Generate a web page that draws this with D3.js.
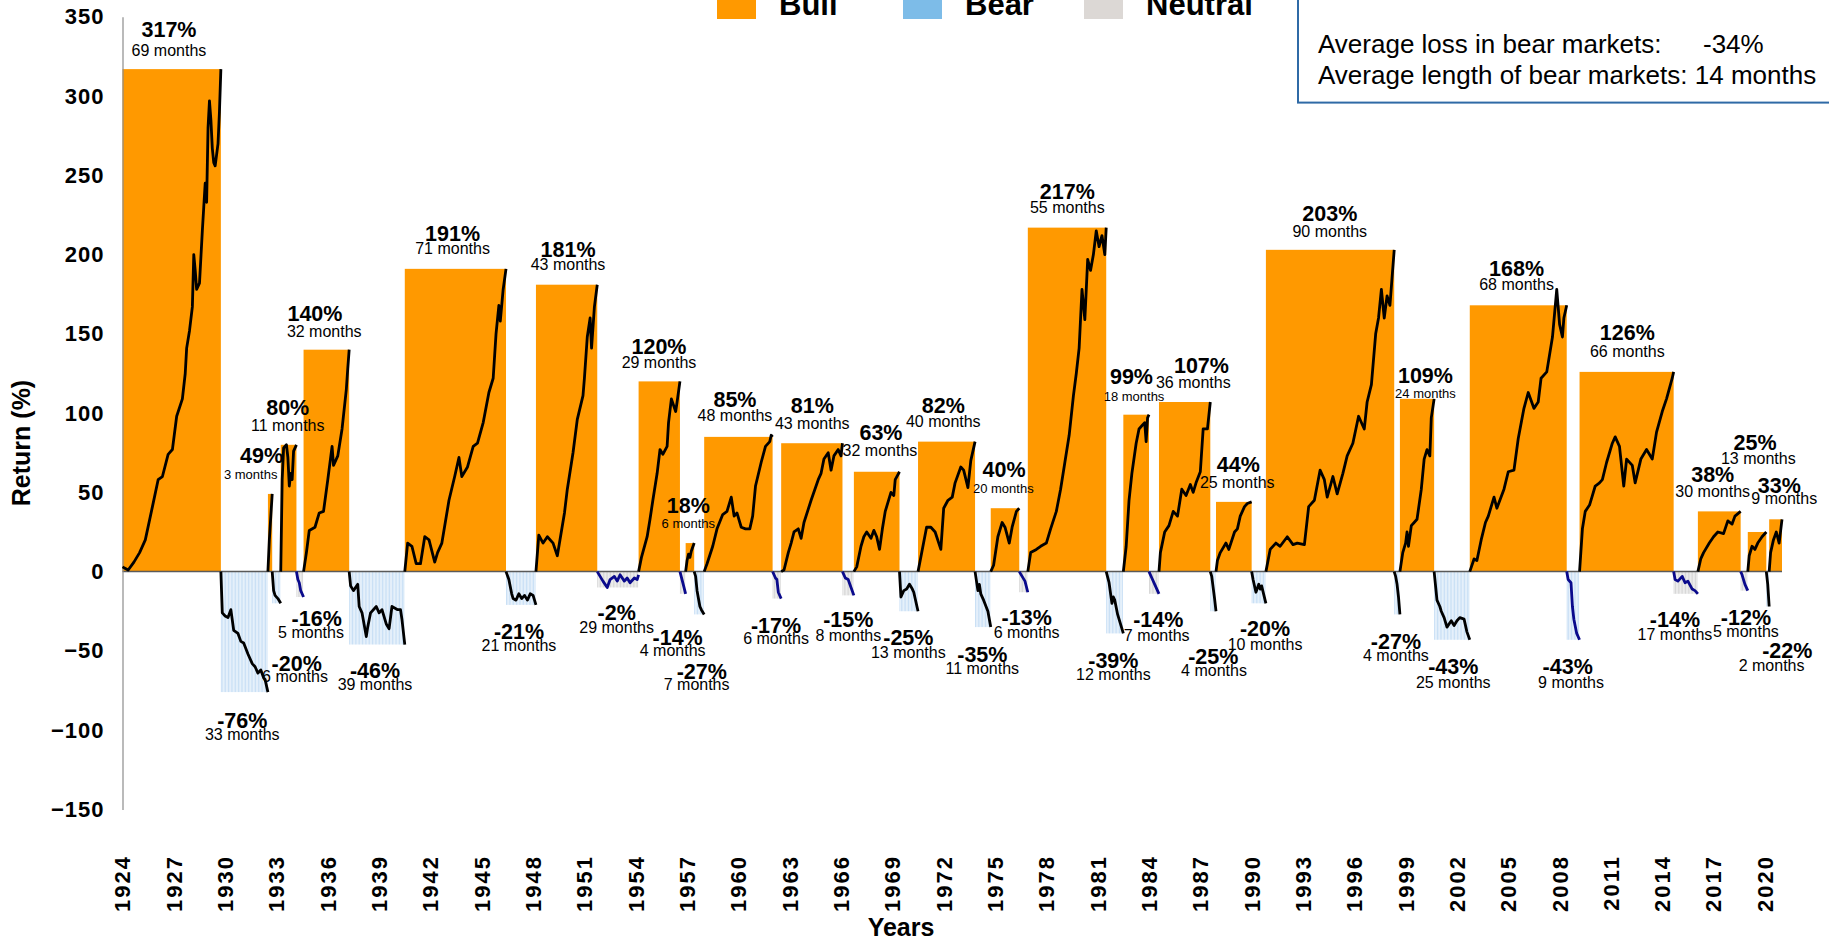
<!DOCTYPE html>
<html>
<head>
<meta charset="utf-8">
<script src="https://cdn.jsdelivr.net/npm/d3@7"></script>
<style>
  body { margin: 0; background: #fff; }
  text { font-family: "Liberation Sans", Arial, sans-serif; }
</style>
</head>
<body>
<svg id="chart" width="1829" height="940"></svg>
<script>
// market periods, left to right from Jan 1924
var periodType = ["bull","bear","bull","bear","bull","neutral","bull","bear","bull","bear",
  "bull","neutral","bull","neutral","bull","bear","bull","neutral","bull","neutral",
  "bull","bear","bull","bear","bull","neutral","bull","bear","bull","neutral",
  "bull","bear","bull","bear","bull","bear","bull","bear","bull","bear",
  "bull","neutral","bull","neutral","bull","bear","bull"];

var periodMonths = [69,33,3,6,11,5,32,39,71,21,43,29,29,4,6,7,48,6,43,8,
  32,13,40,11,20,6,55,12,18,7,36,4,25,10,90,4,24,25,68,9,66,17,30,5,13,2,9];

var periodReturn = [317,-76,49,-20,80,-16,140,-46,191,-21,181,-2,120,-14,18,-27,85,-17,81,-15,
  63,-25,82,-35,40,-13,217,-39,99,-14,107,-25,44,-20,203,-27,109,-43,168,-43,126,-14,38,-12,25,-22,33];

// cumulative return inside each period: [month into period, %]
var periodPath = [
  [[0,3],[2,2],[4,1],[8,6],[12,12],[16,20],[21,41],[25,58],[28,60],[32,74],[35,77],[38,98],[42,109],[44,125],[45,141],[47,152],[49,167],[50,200],[51,190],[52,178],[54,182],[56,215],[57,230],[58,245],[59,233],[60,280],[61,297],[62,285],[63,267],[64,258],[65,256],[67,270],[68,290],[69,317]],
  [[0,0],[1,-26],[3,-28],[5,-29],[7,-24],[9,-37],[12,-39],[14,-44],[16,-45],[19,-52],[22,-58],[24,-60],[26,-64],[28,-62],[30,-67],[31,-68],[33,-76]],
  [[0,0],[1,20],[3,49]],
  [[0,0],[1,-12],[2,-15],[4,-17],[6,-20]],
  [[0,0],[1,58],[2,78],[4,80],[5,72],[6,54],[7,62],[8,58],[9,76],[11,80]],
  [[0,0],[1,-5],[2,-7],[3,-12],[5,-16]],
  [[0,0],[2,12],[4,26],[8,28],[11,37],[14,38],[17,58],[20,79],[21,67],[24,73],[27,90],[30,115],[31,128],[32,140]],
  [[0,0],[1,-9],[3,-12],[6,-8],[7,-22],[9,-26],[12,-41],[13,-35],[15,-26],[19,-22],[21,-26],[23,-24],[26,-33],[28,-36],[30,-22],[34,-24],[36,-24],[37,-30],[39,-46]],
  [[0,0],[2,18],[5,16],[8,5],[11,5],[14,22],[17,20],[21,6],[23,12],[26,18],[31,45],[35,60],[38,72],[40,60],[44,66],[48,79],[51,81],[55,94],[59,113],[62,122],[64,150],[66,168],[67,158],[69,178],[71,191]],
  [[0,0],[2,-5],[4,-14],[5,-17],[7,-18],[9,-14],[11,-17],[13,-15],[15,-18],[17,-14],[19,-15],[21,-21]],
  [[0,0],[2,23],[5,18],[8,22],[12,18],[15,10],[20,37],[22,52],[26,75],[29,96],[33,111],[34,122],[36,148],[38,160],[39,141],[41,167],[43,181]],
  [[0,0],[2,-3],[4,-6],[7,-10],[9,-5],[12,-3],[14,-6],[16,-2],[19,-6],[21,-4],[23,-7],[26,-4],[28,-5],[29,-2]],
  [[0,0],[2,9],[6,22],[8,33],[10,45],[13,62],[15,77],[17,74],[20,79],[21,94],[23,109],[26,101],[27,107],[29,120]],
  [[0,0],[2,-7],[4,-14]],
  [[0,0],[1,7],[2,11],[3,9],[4,13],[6,18]],
  [[0,0],[1,-3],[2,-12],[4,-22],[5,-24],[7,-27]],
  [[0,0],[2,5],[6,16],[9,27],[13,36],[16,38],[19,47],[21,35],[23,37],[26,28],[29,27],[32,27],[34,35],[36,54],[40,69],[43,79],[46,82],[47,86],[48,85]],
  [[0,0],[1,-2],[2,-4],[3,-5],[4,-13],[6,-17]],
  [[0,0],[2,1],[5,12],[7,18],[9,25],[12,27],[14,21],[16,31],[21,45],[26,58],[28,62],[30,71],[33,75],[35,64],[37,73],[40,77],[42,73],[43,81]],
  [[0,0],[2,-4],[4,-5],[6,-10],[8,-15]],
  [[0,0],[2,3],[5,16],[7,22],[9,25],[12,21],[14,26],[16,22],[18,14],[20,27],[22,38],[26,50],[28,48],[29,58],[32,63]],
  [[0,0],[1,-16],[3,-12],[5,-11],[7,-8],[9,-11],[10,-13],[13,-25]],
  [[0,0],[3,14],[6,28],[9,28],[12,25],[16,14],[18,40],[21,45],[24,47],[26,56],[30,66],[32,64],[35,53],[37,70],[40,82]],
  [[0,0],[2,-12],[3,-8],[4,-14],[6,-18],[9,-25],[11,-35]],
  [[0,0],[2,4],[5,22],[8,31],[10,28],[13,18],[15,28],[18,38],[20,40]],
  [[0,0],[2,-3],[4,-6],[6,-13]],
  [[0,0],[2,12],[6,14],[9,16],[13,18],[16,27],[20,38],[23,52],[26,69],[29,86],[32,111],[34,125],[36,141],[38,178],[40,159],[42,197],[44,190],[46,200],[48,215],[50,205],[52,212],[54,200],[55,217]],
  [[0,0],[2,-7],[4,-20],[5,-16],[6,-18],[8,-27],[10,-33],[12,-39]],
  [[0,0],[2,16],[4,45],[6,62],[9,81],[11,90],[13,92],[15,94],[16,82],[17,97],[18,99]],
  [[0,0],[2,-4],[4,-8],[7,-14]],
  [[0,0],[1,12],[4,25],[7,29],[10,38],[13,35],[16,52],[19,48],[22,55],[24,50],[26,56],[29,63],[31,90],[34,90],[36,107]],
  [[0,0],[1,-3],[3,-17],[4,-25]],
  [[0,0],[1,7],[3,12],[7,18],[9,14],[13,25],[15,27],[17,35],[20,41],[22,43],[25,44]],
  [[0,0],[1,-5],[3,-13],[5,-8],[6,-11],[7,-9],[10,-20]],
  [[0,0],[3,14],[7,18],[10,16],[15,22],[19,17],[22,18],[27,17],[30,41],[34,45],[38,64],[41,58],[43,47],[47,60],[50,49],[54,62],[57,73],[61,81],[65,98],[69,90],[71,107],[74,118],[77,150],[79,160],[81,178],[83,160],[85,174],[87,168],[90,203]],
  [[0,0],[1,-3],[2,-8],[3,-16],[4,-27]],
  [[0,0],[2,12],[4,18],[5,25],[6,16],[8,29],[10,31],[12,33],[15,52],[17,71],[19,77],[21,73],[22,97],[24,109]],
  [[0,0],[2,-18],[4,-22],[5,-25],[7,-29],[9,-35],[12,-31],[14,-34],[16,-31],[18,-29],[21,-30],[23,-38],[25,-43]],
  [[0,0],[3,8],[5,7],[8,20],[11,31],[13,35],[17,47],[19,40],[24,52],[27,63],[31,64],[34,84],[38,103],[41,113],[45,103],[48,107],[50,122],[54,126],[58,148],[61,178],[63,156],[65,148],[66,160],[68,168]],
  [[0,0],[1,-5],[3,-7],[4,-22],[5,-30],[7,-39],[9,-43]],
  [[0,0],[2,27],[4,38],[7,42],[9,48],[11,54],[14,56],[16,58],[19,69],[23,81],[25,85],[28,79],[31,54],[33,71],[37,67],[39,56],[43,71],[47,77],[51,71],[54,88],[58,101],[61,109],[65,122],[66,126]],
  [[0,0],[1,-5],[3,-6],[6,-3],[8,-7],[10,-6],[13,-11],[15,-12],[17,-14]],
  [[0,0],[2,8],[4,12],[8,18],[11,22],[14,25],[18,24],[21,32],[24,30],[26,35],[30,38]],
  [[0,0],[1,-2],[2,-5],[3,-8],[5,-12]],
  [[0,0],[1,10],[3,16],[5,14],[7,18],[10,22],[13,25]],
  [[0,0],[1,-8],[2,-22]],
  [[0,0],[1,12],[3,20],[5,25],[7,18],[9,33]]
];

// periods whose line is drawn in navy
var navyPeriods = [5,11,13,17,19,25,29,39,41,43];

var yearTicks = [1924,1927,1930,1933,1936,1939,1942,1945,1948,1951,1954,1957,1960,1963,1966,
  1969,1972,1975,1978,1981,1984,1987,1990,1993,1996,1999,2002,2005,2008,2011,2014,2017,2020];
var returnTicks = [-150,-100,-50,0,50,100,150,200,250,300,350];

var legendNames = ["Bull","Bear","Neutral"];
var boxText = ["Average loss in bear markets:", "-34%", "Average length of bear markets: 14 months"];

// label anchors in data units: [month since 1924, %]
var labelPct = [[32.6,342.2],[84,-93.9],[97.6,73.5],[122.2,-57.9],[115.9,103.7],[136.2,-29.7],[135,162.6],[177.1,-62.6],[231.5,213.4],[278.1,-37.6],
  [312.5,203.2],[346.6,-25.5],[376.3,142],[389.4,-41.8],[396.9,41.7],[406.3,-63],[429.6,108.7],[458.4,-34],[483.8,104.5],[509.1,-30.3],
  [532,87.5],[551.2,-41.8],[575.7,105.1],[603.1,-52],[618.3,64.2],[634.2,-28.7],[662.7,239.9],[695,-56.2],[707.7,122.9],[726.5,-30.3],
  [756.8,130.3],[765.1,-53.7],[782.6,67.8],[801.4,-36.1],[846.8,225.9],[893.2,-43.9],[913.9,123.6],[933.4,-60],[977.8,191.4],[1013.7,-60],
  [1055.5,150.9],[1088.9,-30.3],[1115.4,61.4],[1138.7,-29.1],[1145.1,81.6],[1167.7,-49.9],[1162.1,54.4]];
var labelMon = [[32.6,329],[84,-102.8],[89.9,61.4],[121,-65.8],[115.9,92.5],[132.2,-38.2],[141.5,151.6],[177.1,-71],[231.5,203.9],[278.1,-46.7],
  [312.5,193.6],[346.6,-35],[376.3,131.7],[385.9,-49.4],[396.9,30.1],[402.7,-71],[429.6,98.3],[458.4,-42.4],[483.8,93.6],[509.1,-40.3],
  [531.3,76.2],[551.2,-50.9],[575.7,94.5],[603.1,-60.9],[617.8,52.3],[634.2,-38.2],[662.7,229.7],[695,-65.1],[709.5,110.4],[725.4,-40.3],
  [751.1,119.2],[765.6,-62.1],[781.9,56.2],[801.4,-45.6],[846.8,214.9],[893.2,-53],[913.9,112.7],[933.4,-69.6],[977.8,181.1],[1016,-69.6],
  [1055.5,139.2],[1088.9,-39.7],[1115.4,50.8],[1138.7,-37.6],[1147.4,71.6],[1156.7,-59.4],[1165.6,46.2]];
var smallLabels = [2,14,24,28,36];

var colours = { bull: "#ff9900", bear: "#7dbce8", neutral: "#dcd8d5" };
var stripe = { bear: "#c6def5", neutral: "#d5d5d5" };

var svg = d3.select("#chart");

var totalMonths = d3.sum(periodMonths);
var x = d3.scaleLinear().domain([0, totalMonths]).range([122.5, 1782]);
var y = d3.scaleLinear().domain([-150, 350]).range([809.4, 16.8]);

var starts = [];
var acc = 0;
periodMonths.forEach(function(m) { starts.push(acc); acc += m; });

var periods = periodType.map(function(t, i) {
  return {
    i: i, type: t, start: starts[i], months: periodMonths[i], ret: periodReturn[i],
    path: periodPath[i],
    low: d3.min(periodPath[i], function(d) { return d[1]; })
  };
});

// fills
var fills = svg.append("g");
periods.forEach(function(p) {
  if (p.type == "bull") {
    fills.append("rect")
      .attr("x", x(p.start))
      .attr("y", y(p.ret))
      .attr("width", x(p.start + p.months) - x(p.start))
      .attr("height", y(0) - y(p.ret))
      .attr("fill", colours.bull);
  } else {
    var depth = Math.min(p.ret, p.low);
    fills.selectAll(null)
      .data(d3.range(p.months))
      .enter().append("rect")
      .attr("x", function(k) { return x(p.start + k); })
      .attr("y", y(0))
      .attr("width", x(1) - x(0) - 0.5)
      .attr("height", y(depth) - y(0))
      .attr("fill", stripe[p.type]);
  }
});

// zero line
svg.append("line")
  .attr("x1", x(0)).attr("x2", x(totalMonths))
  .attr("y1", y(0)).attr("y2", y(0))
  .attr("stroke", "#5a5a5a").attr("stroke-width", 1.5);

// y axis
var yAxis = svg.append("g")
  .attr("transform", "translate(" + x(0) + ",0)")
  .call(d3.axisLeft(y).tickValues(returnTicks).tickSize(0).tickPadding(18));
yAxis.select(".domain").attr("stroke", "#8c8c8c").attr("stroke-width", 1.2);
yAxis.selectAll("text")
  .attr("fill", "#000")
  .style("font-family", "'Liberation Sans', Arial, sans-serif")
  .style("font-weight", "bold")
  .style("font-size", "22px")
  .style("letter-spacing", "1px");

// year labels
svg.append("g").selectAll("text")
  .data(yearTicks)
  .enter().append("text")
  .attr("transform", function(d) { return "translate(" + x((d - 1924) * 12) + ",855) rotate(-90)"; })
  .attr("text-anchor", "end")
  .attr("dy", "0.36em")
  .style("font-weight", "bold")
  .style("font-size", "22px")
  .style("letter-spacing", "2px")
  .text(function(d) { return d; });

// performance lines
var line = d3.line()
  .x(function(d) { return d[0]; })
  .y(function(d) { return d[1]; });
periods.forEach(function(p) {
  var pts = p.path.map(function(d) { return [x(p.start + d[0]), y(d[1])]; });
  svg.append("path")
    .attr("d", line(pts))
    .attr("fill", "none")
    .attr("stroke", navyPeriods.indexOf(p.i) >= 0 ? "#0a0a8c" : "#000")
    .attr("stroke-width", 2.8)
    .attr("stroke-linejoin", "round");
});

// period labels
var labels = svg.append("g");
periods.forEach(function(p) {
  labels.append("text")
    .attr("x", x(labelPct[p.i][0]))
    .attr("y", y(labelPct[p.i][1]))
    .attr("dy", "0.35em")
    .attr("text-anchor", "middle")
    .style("font-weight", "bold")
    .style("font-size", "21.5px")
    .text(p.ret + "%");
  labels.append("text")
    .attr("x", x(labelMon[p.i][0]))
    .attr("y", y(labelMon[p.i][1]))
    .attr("dy", "0.35em")
    .attr("text-anchor", "middle")
    .style("font-size", smallLabels.indexOf(p.i) >= 0 ? "13px" : "16px")
    .text(p.months + " months");
});

// axis titles
svg.append("text")
  .attr("transform", "translate(21,443) rotate(-90)")
  .attr("text-anchor", "middle")
  .attr("dy", "0.35em")
  .style("font-weight", "bold")
  .style("font-size", "25px")
  .text("Return (%)");
svg.append("text")
  .attr("x", 901).attr("y", 927)
  .attr("text-anchor", "middle")
  .attr("dy", "0.35em")
  .style("font-weight", "bold")
  .style("font-size", "25px")
  .text("Years");

// legend
var legendX = [717, 903, 1084];
var legend = svg.append("g");
legendNames.forEach(function(name, i) {
  legend.append("rect")
    .attr("x", legendX[i]).attr("y", -20)
    .attr("width", 39).attr("height", 39)
    .attr("fill", colours[name.toLowerCase()]);
  legend.append("text")
    .attr("x", legendX[i] + 62).attr("y", 15)
    .style("font-weight", "bold")
    .style("font-size", "31px")
    .text(name);
});

// summary box
svg.append("rect")
  .attr("x", 1298).attr("y", -10)
  .attr("width", 600).attr("height", 112.6)
  .attr("fill", "#fff")
  .attr("stroke", "#2f6aa6")
  .attr("stroke-width", 2);
svg.append("text").attr("x", 1318).attr("y", 53).style("font-size", "26px").text(boxText[0]);
svg.append("text").attr("x", 1703).attr("y", 53).style("font-size", "26px").text(boxText[1]);
svg.append("text").attr("x", 1318).attr("y", 84).style("font-size", "26px").text(boxText[2]);
</script>
</body>
</html>
